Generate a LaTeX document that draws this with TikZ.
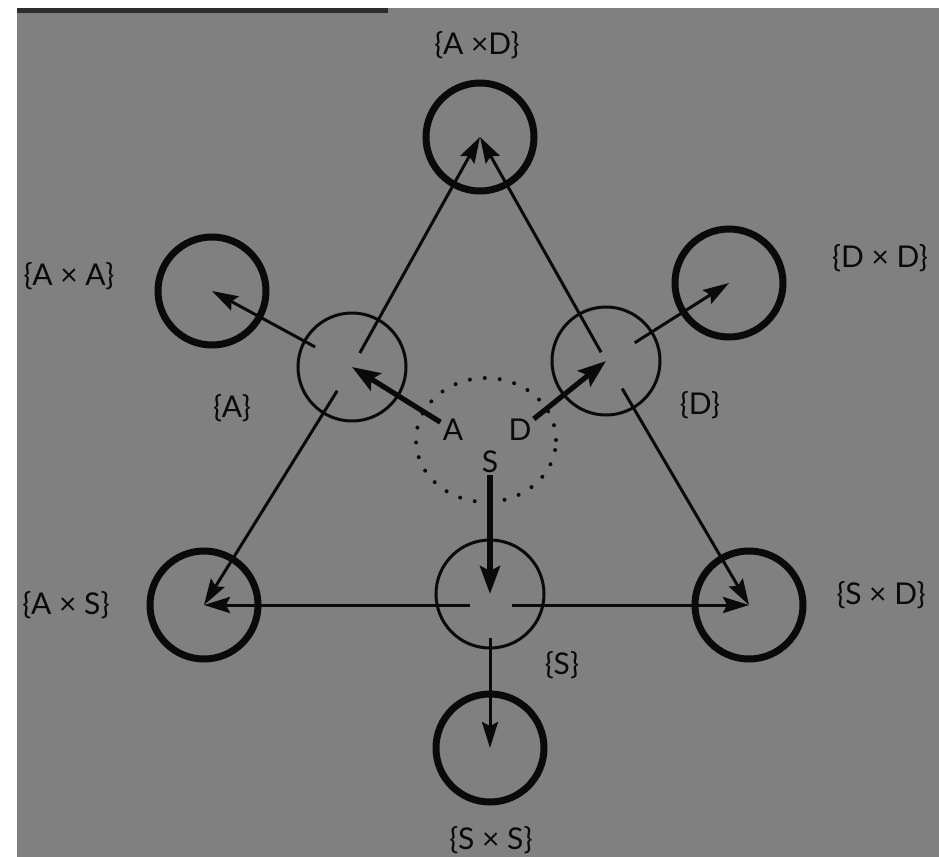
\documentclass[tikz,border=0pt]{standalone}
\usepackage{fontspec}
\setmainfont{Lato}
\usepackage{tikz}
\usetikzlibrary{arrows.meta,shapes.geometric}
\definecolor{scanGray}{RGB}{128,128,128}
\definecolor{scanInk}{RGB}{10,10,10}
\definecolor{scanEdge}{RGB}{45,45,45}

\begin{document}
\begin{tikzpicture}[x=0.5pt,y=-0.5pt,
  ring/.style={circle, draw=scanInk, line width=1.5pt, minimum size=54pt, inner sep=0pt},
  bigring/.style={ring, line width=3.5pt},
  lbl/.style={text=scanInk, font=\fontsize{15}{18}\selectfont, inner sep=1pt},
  arr/.style={draw=scanInk, line width=1.5pt, -{Stealth[length=13pt,width=8pt,inset=2pt]}},
  boldarr/.style={draw=scanInk, line width=2.6pt, -{Stealth[length=14pt,width=10pt,inset=2.5pt]}}]
\useasboundingbox (0,0) rectangle (939,857);
\fill[white] (0,0) rectangle (939,857);
\fill[scanGray] (17,8) rectangle (939,857);
\draw[scanEdge, line width=2.5pt] (17,10) -- (388,10);

% product sets
\foreach \n/\x/\y in {axd/480/137, axa/212/291, dxd/729/283, axs/204/605, sxd/749/605, sxs/490/748}{
  \node[bigring] (\n) at (\x,\y) {};
}
% single sets
\node[ring] (a) at (352,367) {};
\node[ring] (d) at (606,361) {};
\node[ring] (s) at (490,594) {};
\node[ellipse, draw=scanInk, line width=2pt, line cap=round, dash pattern=on 0pt off 7.5pt,
  minimum width=70pt, minimum height=62pt, inner sep=0pt] (pool) at (486,440) {};

\node[lbl] (lblA) at (453,430) {A};
\node[lbl] (lblD) at (520,430) {D};
\node[lbl] (lblS) at (490,462) {S};

\node[lbl] (taxd) at (477,45) {\{A ×D\}};
\node[lbl] (taxa) at (69,276) {\{A × A\}};
\node[lbl] (tdxd) at (880,258) {\{D × D\}};
\node[lbl] (ta) at (232,408) {\{A\}};
\node[lbl] (td) at (700,405) {\{D\}};
\node[lbl] (taxs) at (66,605) {\{A × S\}};
\node[lbl] (tsxd) at (881,595) {\{S × D\}};
\node[lbl] (ts) at (562,665) {\{S\}};
\node[lbl] (tsxs) at (491,840) {\{S × S\}};

% connectors
\foreach \from/\to/\gap in {a/axa/21pt, a/axd/8pt, a/axs/14pt, d/axd/5pt, d/dxd/17pt,
  d/sxd/16pt, s/sxs/22pt}{
  \draw[arr, shorten <=\gap] (\from.center) -- (\to.center);
}
\draw[arr, shorten <=10pt] ([yshift=-5.5pt]s.center) -- (axs.center);
\draw[arr, shorten <=11pt] ([yshift=-5.5pt]s.center) -- (sxd.center);
\draw[boldarr] (lblA) -- (a.center);
\draw[boldarr] (lblD) -- (d.center);
\draw[boldarr] (lblS) -- (s.center);
\end{tikzpicture}
\end{document}
